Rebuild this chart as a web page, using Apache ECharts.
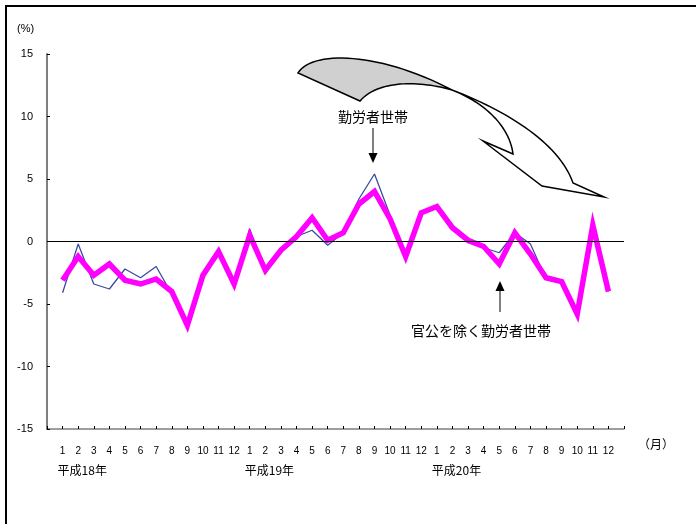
<!DOCTYPE html>
<html>
<head>
<meta charset="utf-8">
<script src="https://cdn.jsdelivr.net/npm/echarts@6/dist/echarts.min.js"></script>
<style>
  html, body { margin: 0; padding: 0; background: #fff; }
  #chart { width: 696px; height: 524px; }
</style>
</head>
<body>
<div id="chart"></div>
<script>
// Month labels for 平成18年1月 .. 平成20年12月
const months = ['1','2','3','4','5','6','7','8','9','10','11','12',
                '1','2','3','4','5','6','7','8','9','10','11','12',
                '1','2','3','4','5','6','7','8','9','10','11','12'];
// Year captions and the month index where each year starts
const years = ['平成18年', '平成19年', '平成20年'];
const yearStart = [0, 12, 24];

// 勤労者世帯 (実質増減率, %)
const workerHouseholds = [
  -4.1, -0.2, -3.4, -3.8, -2.2, -2.9, -2.0, -4.2, -6.8, -2.7, -1.1, -3.4,
   1.0, -2.6, -0.5,  0.4,  0.9, -0.3,  0.7,  3.4,  5.4,  2.1, -1.3,  2.2,
   2.9,  1.1, -0.1, -0.5, -0.9,  0.7, -0.2, -3.0, -3.3, -5.9,  1.3, -4.0
];
// 官公を除く勤労者世帯 (実質増減率, %)
const excludingPublic = [
  -3.1, -1.2, -2.7, -1.8, -3.1, -3.4, -3.0, -4.0, -6.7, -2.7, -0.8, -3.4,
   0.5, -2.3, -0.7,  0.4,  1.9,  0.1,  0.7,  3.0,  4.0,  1.8, -1.2,  2.3,
   2.8,  1.1,  0.1, -0.4, -1.8,  0.7, -1.0, -2.9, -3.2, -5.8,  1.3, -4.0
];
// Y axis range and step
const yMin = -15, yMax = 15, yStep = 5;

// Pad one empty slot on each side so the first/last months sit one step in from the axis ends
const cats = [''].concat(months, ['']);
const pad = arr => [null].concat(arr, [null]);

const FONT = '"Liberation Sans", "Noto Sans CJK JP", sans-serif';
const JFONT = '"Noto Sans CJK JP", sans-serif';

// Sample a cubic Bézier into points (used to build the ribbon outlines)
function cubic(p0, p1, p2, p3, n) {
  const pts = [];
  for (let i = 0; i <= n; i++) {
    const t = i / n, u = 1 - t;
    pts.push([
      u*u*u*p0[0] + 3*u*u*t*p1[0] + 3*u*t*t*p2[0] + t*t*t*p3[0],
      u*u*u*p0[1] + 3*u*u*t*p1[1] + 3*u*t*t*p2[1] + t*t*t*p3[1]
    ]);
  }
  return pts;
}

const chart = echarts.init(document.getElementById('chart'), null, { renderer: 'canvas' });

chart.setOption({
  animation: false,
  backgroundColor: '#ffffff',
  grid: { left: 47, right: 72, top: 54, bottom: 95 },
  xAxis: {
    type: 'category',
    data: cats,
    boundaryGap: false,
    axisLine: { show: true, onZero: false, lineStyle: { color: '#7f7f7f', width: 1.5 } },
    axisTick: { show: true, inside: true, length: 3, interval: 0, lineStyle: { color: '#000', width: 1 } },
    axisLabel: { interval: 0, margin: 17, fontSize: 10, color: '#000', fontFamily: FONT },
    splitLine: { show: false }
  },
  yAxis: {
    type: 'value',
    min: yMin, max: yMax, interval: yStep,
    axisLine: { show: true, lineStyle: { color: '#7f7f7f', width: 2 } },
    axisTick: { show: true, inside: true, length: 3, lineStyle: { color: '#000', width: 1 } },
    axisLabel: { margin: 14, fontSize: 11, color: '#000', fontFamily: FONT },
    splitLine: { show: false }
  },
  series: [
    {
      name: '勤労者世帯',
      type: 'line',
      data: pad(workerHouseholds),
      symbol: 'none',
      lineStyle: { color: '#3b4aa3', width: 1.3 },
      z: 2,
      markLine: {
        silent: true,
        symbol: 'none',
        label: { show: false },
        lineStyle: { color: '#000', width: 1, type: 'solid' },
        data: [{ yAxis: 0 }]
      }
    },
    {
      name: '官公を除く勤労者世帯',
      type: 'line',
      data: pad(excludingPublic),
      symbol: 'none',
      lineStyle: { color: '#ff00ff', width: 5.5, join: 'miter' },
      z: 3
    }
  ]
});

// Year captions under the month labels, placed from the category scale
const yearTexts = years.map((y, i) => {
  const x = chart.convertToPixel({ xAxisIndex: 0 }, yearStart[i] + 1);
  return {
    type: 'text', x: x - 5, y: 470,
    style: { text: y, font: '12px ' + JFONT, fill: '#000', textAlign: 'left', textVerticalAlign: 'middle' }
  };
});

// Ribbon outlines
const tail = cubic([298, 73], [312, 50], [380, 52], [452, 90], 30)
  .concat(cubic([452, 90], [425, 82], [380, 78], [360, 101], 30));
const head = cubic([452, 90], [510, 112], [560, 145], [573, 183], 30)
  .concat([[604, 197], [542, 186], [483, 141], [513, 154]])
  .concat(cubic([513, 154], [510, 130], [490, 105], [452, 90], 30));

chart.setOption({
  graphic: [
    // outer frame (left and top edges)
    { type: 'rect', shape: { x: 5, y: 5, width: 2, height: 519 }, style: { fill: '#000' } },
    { type: 'rect', shape: { x: 5, y: 5, width: 691, height: 2 }, style: { fill: '#000' } },
    // unit captions
    { type: 'text', x: 17, y: 29, style: { text: '(%)', font: '11px ' + FONT, fill: '#000', textVerticalAlign: 'middle' } },
    { type: 'text', x: 638, y: 444, style: { text: '（月）', font: '12px ' + JFONT, fill: '#000', textVerticalAlign: 'middle' } },
    // twisted trend ribbon
    { type: 'polygon', shape: { points: tail }, style: { fill: '#d0d0d0', stroke: '#000', lineWidth: 1.5 }, z: 10 },
    { type: 'polygon', shape: { points: head }, style: { fill: '#ffffff', stroke: '#000', lineWidth: 1.5 }, z: 10 },
    // 勤労者世帯 callout
    { type: 'text', x: 373, y: 117,
      style: { text: '勤労者世帯', font: '14px ' + JFONT, fill: '#000', textAlign: 'center', textVerticalAlign: 'middle' } },
    { type: 'line', shape: { x1: 373, y1: 128, x2: 373, y2: 156 }, style: { stroke: '#000', lineWidth: 1 } },
    { type: 'polygon', shape: { points: [[368.5, 153], [377.5, 153], [373, 163]] }, style: { fill: '#000' } },
    // 官公を除く勤労者世帯 callout
    { type: 'line', shape: { x1: 500, y1: 312, x2: 500, y2: 288 }, style: { stroke: '#000', lineWidth: 1 } },
    { type: 'polygon', shape: { points: [[495.5, 291], [504.5, 291], [500, 281]] }, style: { fill: '#000' } },
    { type: 'text', x: 481, y: 331,
      style: { text: '官公を除く勤労者世帯', font: '14px ' + JFONT, fill: '#000', textAlign: 'center', textVerticalAlign: 'middle' } }
  ].concat(yearTexts)
});
</script>
</body>
</html>
